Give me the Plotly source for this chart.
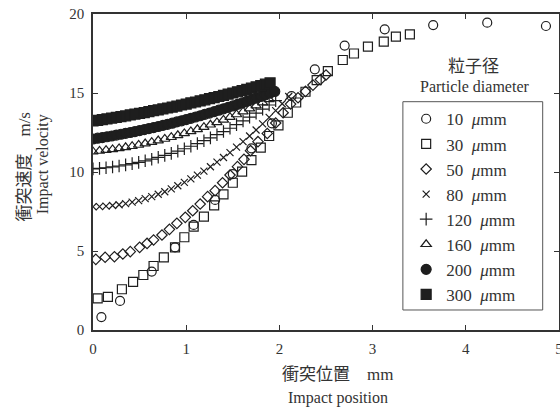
import plotly.graph_objects as go

# ---- data ----
labels = ["10", "30", "50", "80", "120", "160", "200", "300"]

x10 = [0.09, 0.29, 0.63, 0.88, 1.08, 1.31, 1.50, 1.70, 1.92, 2.13, 2.38, 2.70, 3.13, 3.65, 4.23, 4.86]
y10 = [0.82, 1.84, 3.70, 5.23, 6.65, 8.23, 9.87, 11.50, 13.08, 14.80, 16.50, 18.00, 19.03, 19.30, 19.45, 19.24]

x30 = [0.05, 0.16, 0.31, 0.43, 0.54, 0.65, 0.76, 0.88, 0.98, 1.08, 1.19, 1.30, 1.40, 1.50, 1.60,
       1.70, 1.80, 1.89, 1.99, 2.09, 2.18, 2.28, 2.40, 2.52, 2.68, 2.80, 2.95, 3.12, 3.25, 3.40]
y30 = [2.00, 2.10, 2.58, 3.04, 3.48, 4.05, 4.60, 5.23, 5.87, 6.54, 7.17, 7.89, 8.59, 9.32, 10.02,
       10.75, 11.54, 12.28, 12.95, 13.75, 14.40, 15.08, 15.82, 16.39, 17.09, 17.50, 17.93, 18.25, 18.57, 18.71]

x50 = [0.03, 0.13, 0.23, 0.32, 0.40, 0.50, 0.58, 0.65, 0.74, 0.82, 0.90, 0.99, 1.07, 1.15, 1.23, 1.31,
       1.39, 1.47, 1.55, 1.62, 1.69, 1.77, 1.87, 1.96, 2.04, 2.12, 2.20, 2.28, 2.36, 2.44, 2.50]
y50 = [4.47, 4.60, 4.64, 4.81, 4.96, 5.23, 5.48, 5.70, 6.01, 6.37, 6.75, 7.13, 7.55, 7.97, 8.44, 8.82,
       9.32, 9.81, 10.34, 10.80, 11.35, 11.92, 12.44, 13.10, 13.75, 14.30, 14.70, 15.10, 15.50, 15.85, 16.14]

x80 = [0.00, 0.07, 0.14, 0.21, 0.28, 0.35, 0.42, 0.49, 0.56, 0.63, 0.70, 0.77, 0.84, 0.91, 0.98, 1.05,
       1.12, 1.19, 1.26, 1.33, 1.40, 1.47, 1.54, 1.61, 1.68, 1.75, 1.82, 1.89, 1.96, 2.03, 2.10]
y80 = [7.80, 7.81, 7.84, 7.88, 7.93, 8.00, 8.09, 8.19, 8.31, 8.44, 8.59, 8.75, 8.93, 9.13, 9.34, 9.56,
       9.80, 10.06, 10.33, 10.62, 10.92, 11.23, 11.57, 11.92, 12.28, 12.66, 13.05, 13.46, 13.88, 14.32, 14.78]

x120 = [0.00, 0.07, 0.14, 0.21, 0.28, 0.35, 0.42, 0.49, 0.56, 0.63, 0.70, 0.77, 0.84, 0.91, 0.98,
        1.05, 1.12, 1.19, 1.26, 1.33, 1.40, 1.47, 1.54, 1.61, 1.68, 1.75, 1.82, 1.89, 1.96]
y120 = [10.20, 10.23, 10.27, 10.32, 10.38, 10.45, 10.53, 10.61, 10.71, 10.81, 10.93, 11.05, 11.18, 11.32, 11.47,
        11.63, 11.80, 11.98, 12.16, 12.36, 12.56, 12.77, 13.00, 13.23, 13.47, 13.72, 13.98, 14.24, 14.52]

x160 = [0.00, 0.07, 0.14, 0.21, 0.28, 0.35, 0.42, 0.49, 0.56, 0.63, 0.70, 0.77, 0.84, 0.91,
        0.98, 1.05, 1.12, 1.19, 1.26, 1.33, 1.40, 1.47, 1.54, 1.61, 1.68, 1.75, 1.82, 1.89]
y160 = [11.29, 11.33, 11.38, 11.43, 11.49, 11.56, 11.63, 11.71, 11.80, 11.89, 11.99, 12.09, 12.20, 12.32,
        12.44, 12.57, 12.70, 12.84, 12.99, 13.14, 13.30, 13.47, 13.64, 13.82, 14.01, 14.20, 14.39, 14.60]

x200 = [0.00, 0.05, 0.10, 0.15, 0.20, 0.25, 0.30, 0.35, 0.40, 0.45, 0.50, 0.55, 0.60, 0.65, 0.70, 0.75,
        0.80, 0.85, 0.90, 0.95, 1.00, 1.05, 1.10, 1.15, 1.20, 1.25, 1.30, 1.35, 1.40, 1.45, 1.50, 1.55,
        1.60, 1.65, 1.70, 1.75, 1.80, 1.85, 1.90, 1.95]
y200 = [12.09, 12.14, 12.18, 12.23, 12.28, 12.34, 12.39, 12.45, 12.50, 12.56, 12.62, 12.68, 12.75, 12.81, 12.88, 12.95,
        13.02, 13.09, 13.17, 13.24, 13.32, 13.40, 13.48, 13.56, 13.65, 13.73, 13.82, 13.91, 14.00, 14.09, 14.18, 14.28,
        14.37, 14.47, 14.57, 14.68, 14.78, 14.88, 14.99, 15.10]

x300 = [0.00, 0.05, 0.10, 0.15, 0.20, 0.25, 0.30, 0.35, 0.40, 0.45, 0.50, 0.55, 0.60, 0.65, 0.70, 0.75,
        0.80, 0.85, 0.90, 0.95, 1.00, 1.05, 1.10, 1.15, 1.20, 1.25, 1.30, 1.35, 1.40, 1.45, 1.50, 1.55,
        1.60, 1.65, 1.70, 1.75, 1.80, 1.85, 1.90]
y300 = [13.23, 13.27, 13.32, 13.36, 13.41, 13.46, 13.50, 13.55, 13.61, 13.66, 13.71, 13.76, 13.82, 13.88, 13.93, 13.99,
        14.05, 14.11, 14.17, 14.24, 14.30, 14.37, 14.43, 14.50, 14.57, 14.64, 14.71, 14.78, 14.85, 14.93, 15.00, 15.08,
        15.15, 15.23, 15.31, 15.39, 15.47, 15.56, 15.64]

xs = [x10, x30, x50, x80, x120, x160, x200, x300]
ys = [y10, y30, y50, y80, y120, y160, y200, y300]
symbols = ["circle-open", "square-open", "diamond-open", "x-thin-open", "cross-thin-open",
           "triangle-up-open", "circle", "square"]
sizes = [9, 9, 8, 7, 9, 9, 10, 10]

INK = "#1e1e1e"
TXT = "#333"
FONT = "Liberation Serif, 'Noto Sans CJK JP', serif"

fig = go.Figure()
for i, (lab, xv, yv) in enumerate(zip(labels, xs, ys)):
    fig.add_trace(go.Scatter(
        x=xv, y=yv, mode="markers",
        name=lab + "\u00a0\u00a0<i>\u03bc</i>mm",
        legendgroup="g" + str(i),
        marker=dict(symbol=symbols[i], size=sizes[i], color=INK,
                    line=dict(color=INK, width=1.2)),
    ))

axis_common = dict(
    showgrid=False, zeroline=False, showline=True, linecolor=TXT, linewidth=1.5,
    mirror="ticks", ticks="inside", ticklen=5, tickcolor=TXT, tickwidth=1,
    tickfont=dict(family=FONT, size=15, color=TXT), automargin=False,
    ticklabeloverflow="allow",
)


def ann(text, x, y, size, angle=0):
    return dict(text=text, xref="paper", yref="paper", x=x, y=y,
                xanchor="center", yanchor="middle", textangle=angle,
                showarrow=False, font=dict(family=FONT, size=size, color=TXT))


fig.update_layout(
    width=560, height=410,
    margin=dict(l=93, r=1, t=14, b=80, autoexpand=False),
    paper_bgcolor="white", plot_bgcolor="white",
    font=dict(family=FONT, color=TXT),
    xaxis=dict(range=[0, 5], dtick=1, ticklabelstandoff=4, **axis_common),
    yaxis=dict(range=[0, 20], dtick=5, ticklabelstandoff=4, **axis_common),
    showlegend=True,
    legend=dict(
        x=0.672, y=0.724, xanchor="left", yanchor="top",
        bgcolor="rgba(0,0,0,0)", borderwidth=0,
        font=dict(family=FONT, size=17, color=TXT),
        tracegroupgap=0, traceorder="grouped",
        itemsizing="trace",
    ),
    shapes=[dict(type="rect", xref="paper", yref="paper",
                 x0=0.665, x1=0.965, y0=0.0633, y1=0.7225,
                 line=dict(color="#555", width=1), fillcolor="rgba(0,0,0,0)")],
    annotations=[
        ann("粒子径", 0.816, 0.835, 17),
        ann("Particle diameter", 0.82, 0.7708, 16),
        ann("衝突位置\u3000mm", 0.525, -0.1424, 17),
        ann("Impact position", 0.525, -0.2152, 16),
        ann("衝突速度\u3000m/s", -0.146, 0.517, 17, -90),
        ann("Impact velocity", -0.107, 0.525, 16, -90),
    ],
)

fig.write_html("out.html", config={"displayModeBar": False},
               post_script="document.body.style.margin='0';")
